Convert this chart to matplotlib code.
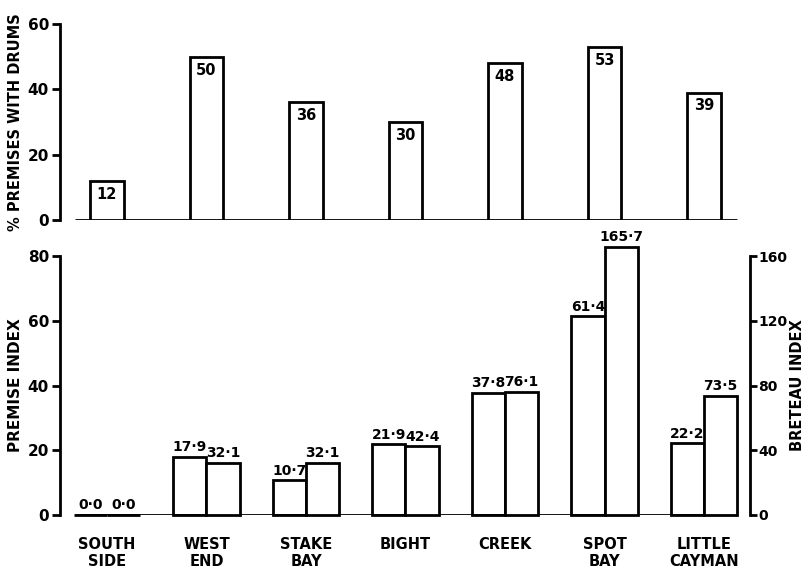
import numpy as np
import matplotlib.pyplot as plt

# Data
sites = ['SOUTH\nSIDE', 'WEST\nEND', 'STAKE\nBAY', 'BIGHT', 'CREEK', 'SPOT\nBAY', 'LITTLE\nCAYMAN']
drums_pct = [12, 50, 36, 30, 48, 53, 39]
premise_index = [0.0, 17.9, 10.7, 21.9, 37.8, 61.4, 22.2]
breteau_index = [0.0, 32.1, 32.1, 42.4, 76.1, 165.7, 73.5]

plt.rcParams['font.family'] = ['DejaVu Sans']
plt.rcParams['font.weight'] = 'bold'

fig = plt.figure(figsize=(8.08, 5.73), dpi=100)
W, H = 808, 573

def px_axes(x0, y0, x1, y1):
    return fig.add_axes([x0 / W, 1 - y1 / H, (x1 - x0) / W, (y1 - y0) / H])

x = np.arange(len(sites))
xlim = (-0.472, 6.462)
bw = 0.335
lw = 2.0

# Top panel: % premises with drums
ax1 = px_axes(60, 24, 750, 220)
ax1.bar(x, drums_pct, width=bw, facecolor='white', edgecolor='black', linewidth=lw, zorder=3)
for xi, v in zip(x, drums_pct):
    ax1.text(xi, v - 1.8, str(v), ha='center', va='top', fontsize=10.5, fontweight='bold')
ax1.hlines(0, -0.32, 6.33, color='black', lw=lw, zorder=2)
ax1.set_xlim(*xlim)
ax1.set_ylim(0, 60)
ax1.set_yticks([0, 20, 40, 60])
ax1.set_xticks([])
for s in ['top', 'right', 'bottom']:
    ax1.spines[s].set_visible(False)
ax1.spines['left'].set_linewidth(lw)
ax1.spines['left'].set_bounds(0, 60)
ax1.tick_params(axis='y', direction='out', length=6, width=lw, labelsize=11, pad=2)
ax1.set_ylabel('% PREMISES WITH DRUMS', fontsize=10.5, fontweight='bold', labelpad=3)
ax1.patch.set_alpha(0)

# Bottom panel: premise index (left) and Breteau index (right)
ax2 = px_axes(60, 256, 750, 515)
ax3 = ax2.twinx()
ax2.bar(x - bw / 2, premise_index, width=bw, facecolor='white', edgecolor='black',
        linewidth=lw, zorder=3, clip_on=False)
ax3.bar(x + bw / 2, breteau_index, width=bw, facecolor='white', edgecolor='black',
        linewidth=lw, zorder=3, clip_on=False)
for xi, p, b in zip(x, premise_index, breteau_index):
    ax2.text(xi - bw / 2, p + 0.8, f'{p:.1f}'.replace('.', '·'), ha='center', va='bottom',
             fontsize=10, fontweight='bold')
    ax3.text(xi + bw / 2, b + 1.6, f'{b:.1f}'.replace('.', '·'), ha='center', va='bottom',
             fontsize=10, fontweight='bold', clip_on=False)
ax2.hlines(0, -0.32, 6.33, color='black', lw=lw, zorder=4)
ax2.set_xlim(*xlim)
ax2.set_ylim(0, 80)
ax3.set_ylim(0, 160)
ax2.set_yticks([0, 20, 40, 60, 80])
ax3.set_yticks([0, 40, 80, 120, 160])
ax2.set_xticks(x)
ax2.set_xticklabels(sites, fontsize=10.5, fontweight='bold', linespacing=1.15)
ax2.tick_params(axis='x', length=0, pad=16)
for a in (ax2, ax3):
    for s in ['top', 'bottom']:
        a.spines[s].set_visible(False)
ax2.spines['right'].set_visible(False)
ax3.spines['left'].set_visible(False)
ax2.spines['left'].set_linewidth(lw)
ax2.spines['left'].set_bounds(0, 80)
ax3.spines['right'].set_linewidth(lw)
ax3.spines['right'].set_bounds(0, 160)
ax2.tick_params(axis='y', direction='out', length=6, width=lw, labelsize=11, pad=2)
ax3.tick_params(axis='y', direction='out', length=5, width=lw, labelsize=10, pad=1)
ax2.set_ylabel('PREMISE INDEX', fontsize=11, fontweight='bold', labelpad=3)
ax3.set_ylabel('BRETEAU INDEX', fontsize=10.5, fontweight='bold', labelpad=2)

fig.savefig('out.png', dpi=100)
